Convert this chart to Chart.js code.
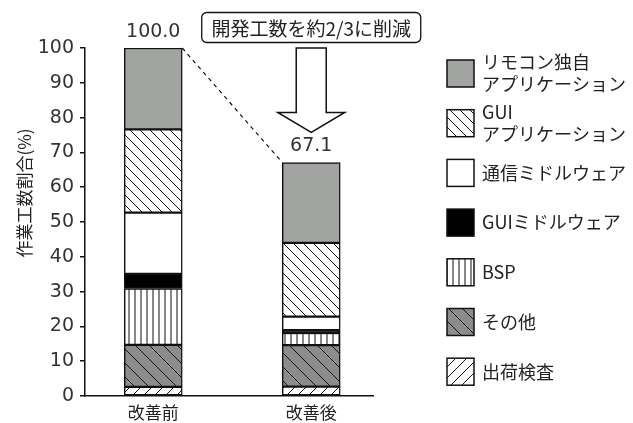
<!DOCTYPE html>
<html><head><meta charset="utf-8">
<script src="https://cdn.jsdelivr.net/npm/chart.js@4/dist/chart.umd.min.js"></script>
<style>html,body{margin:0;padding:0;background:#fff}#wrap{width:633px;height:423px;position:relative}</style>
</head><body><div id="wrap"><canvas id="c" width="633" height="423"></canvas></div>
<script>
// ---- data ----
const categories = ['改善前', '改善後'];
const seriesNames = ['出荷検査', 'その他', 'BSP', 'GUIミドルウェア', '通信ミドルウェア', 'GUI\nアプリケーション', 'リモコン独自\nアプリケーション'];
const shipping   = [2.6, 2.7];
const other      = [12.1, 11.9];
const bsp        = [16.2, 3.5];
const guiMw      = [4.2, 0.8];
const commMw     = [17.6, 3.9];
const guiApp     = [23.9, 21.2];
const remoteApp  = [23.4, 23.1];
const yTicks = [0, 10, 20, 30, 40, 50, 60, 70, 80, 90, 100];
const yTitle = '作業工数割合(%)';
const note = '開発工数を約2/3に削減';

const FONT = '"Noto Sans CJK JP", "Noto Sans", sans-serif';
const NUMFONT = '"DejaVu Sans", "Noto Sans CJK JP", sans-serif';
const TXT = '#222';
const NUMTXT = '#333';

function pat(bg, kind, s, lw) {
  const c = document.createElement('canvas');
  c.width = s; c.height = s;
  const x = c.getContext('2d');
  x.fillStyle = bg; x.fillRect(0, 0, s, s);
  x.strokeStyle = '#111'; x.lineWidth = lw;
  x.beginPath();
  if (kind === 'back') {
    for (const k of [-s, 0, s]) { x.moveTo(k, 0); x.lineTo(k + s, s); }
  } else if (kind === 'fwd') {
    for (const k of [-s, 0, s]) { x.moveTo(k + s, 0); x.lineTo(k, s); }
  } else if (kind === 'vert') {
    x.moveTo(s / 2, 0); x.lineTo(s / 2, s);
  }
  x.stroke();
  return x.createPattern(c, 'repeat');
}

const fills = [
  pat('#ffffff', 'fwd', 11, 1),
  pat('#8c8c8c', 'back', 14, 1),
  pat('#ffffff', 'vert', 6, 1),
  '#000000',
  '#ffffff',
  pat('#ffffff', 'back', 10, 1),
  '#a2a4a2'
];
const seriesValues = [shipping, other, bsp, guiMw, commMw, guiApp, remoteApp];

const datasets = seriesNames.map((n, i) => ({
  label: n,
  data: seriesValues[i].map((v, j) => ({ x: j, y: v })),
  backgroundColor: fills[i],
  borderColor: '#111',
  borderWidth: 1.5,
  borderSkipped: false,
  barThickness: 58
}));

const deco = {
  id: 'deco',
  afterDraw(chart) {
    const ctx = chart.ctx;
    const ca = chart.chartArea;
    const meta = chart.getDatasetMeta(datasets.length - 1);
    const e0 = meta.data[0], e1 = meta.data[1];
    const hw = e0.width / 2;
    ctx.save();
    ctx.textAlign = 'center'; ctx.textBaseline = 'middle';
    // dashed connector
    ctx.setLineDash([4, 4]);
    ctx.strokeStyle = '#111'; ctx.lineWidth = 1.2;
    ctx.beginPath();
    ctx.moveTo(e0.x + hw, e0.y); ctx.lineTo(e1.x - hw, e1.y);
    ctx.stroke();
    ctx.setLineDash([]);
    // arrow
    const cx = e1.x, tip = e1.y - 30, headY = tip - 20, top = ca.top;
    ctx.beginPath();
    ctx.moveTo(cx - 15, top); ctx.lineTo(cx + 15, top);
    ctx.lineTo(cx + 15, headY); ctx.lineTo(cx + 33.5, headY);
    ctx.lineTo(cx, tip); ctx.lineTo(cx - 33.5, headY);
    ctx.lineTo(cx - 15, headY); ctx.closePath();
    ctx.fillStyle = '#fff'; ctx.fill();
    ctx.lineWidth = 1.5; ctx.stroke();
    // note box
    const bw = 219, bh = 30, bx = cx - bw / 2, by = 12.5;
    ctx.beginPath();
    ctx.roundRect(bx, by, bw, bh, 5);
    ctx.fillStyle = '#fff'; ctx.fill();
    ctx.lineWidth = 1.3; ctx.stroke();
    ctx.fillStyle = TXT; ctx.font = '19px ' + FONT;
    ctx.fillText(note, cx, by + bh / 2 + 1);
    // totals
    ctx.fillStyle = NUMTXT;
    ctx.font = '19px ' + NUMFONT;
    categories.forEach((c, j) => {
      const tot = seriesValues.reduce((a, s) => a + s[j], 0);
      const el = meta.data[j];
      ctx.fillText(tot.toFixed(1), el.x, el.y - 16);
    });
    // y title
    ctx.save();
    ctx.fillStyle = TXT;
    ctx.translate(25, 193);
    ctx.rotate(-Math.PI / 2);
    ctx.font = '17px ' + FONT;
    ctx.fillText(yTitle, 0, 0);
    ctx.restore();
    // legend
    ctx.textAlign = 'left';
    ctx.font = '18px ' + FONT;
    for (let k = 0; k < seriesNames.length; k++) {
      const i = seriesNames.length - 1 - k;
      const y0 = 60 + k * 49.7;
      ctx.fillStyle = fills[i];
      ctx.fillRect(447, y0, 27, 27);
      ctx.strokeStyle = '#111'; ctx.lineWidth = 1.5;
      ctx.strokeRect(447, y0, 27, 27);
      const lines = seriesNames[i].split('\n');
      const cy = y0 + 13.5;
      ctx.fillStyle = TXT;
      lines.forEach((ln, li) => {
        ctx.fillText(ln, 482, cy + (li - (lines.length - 1) / 2) * 22);
      });
    }
    ctx.restore();
  }
};

new Chart(document.getElementById('c'), {
  type: 'bar',
  data: { datasets },
  options: {
    responsive: false,
    animation: false,
    layout: { padding: { top: 48, right: 260, left: 0, bottom: 0 } },
    plugins: { legend: { display: false }, tooltip: { enabled: false } },
    scales: {
      x: {
        type: 'linear', stacked: true, offset: false,
        min: -0.432, max: 1.391,
        afterBuildTicks: s => { s.ticks = categories.map((c, i) => ({ value: i })); },
        afterFit: s => { s.height = 27; },
        ticks: { callback: v => categories[v], font: { size: 17, family: FONT }, color: TXT, padding: 6 },
        grid: { display: false, drawTicks: false },
        border: { display: true, color: '#111', width: 1.5 }
      },
      y: {
        stacked: true, min: 0, max: 100,
        afterBuildTicks: s => { s.ticks = yTicks.map(v => ({ value: v })); },
        afterFit: s => { s.width = 85; },
        ticks: { font: { size: 19, family: NUMFONT }, color: NUMTXT, padding: 6 },
        grid: { drawOnChartArea: false, drawTicks: true, tickLength: 5, color: '#111', lineWidth: 1.5 },
        border: { display: true, color: '#111', width: 1.5 }
      }
    }
  },
  plugins: [deco]
});
</script>
</body></html>
